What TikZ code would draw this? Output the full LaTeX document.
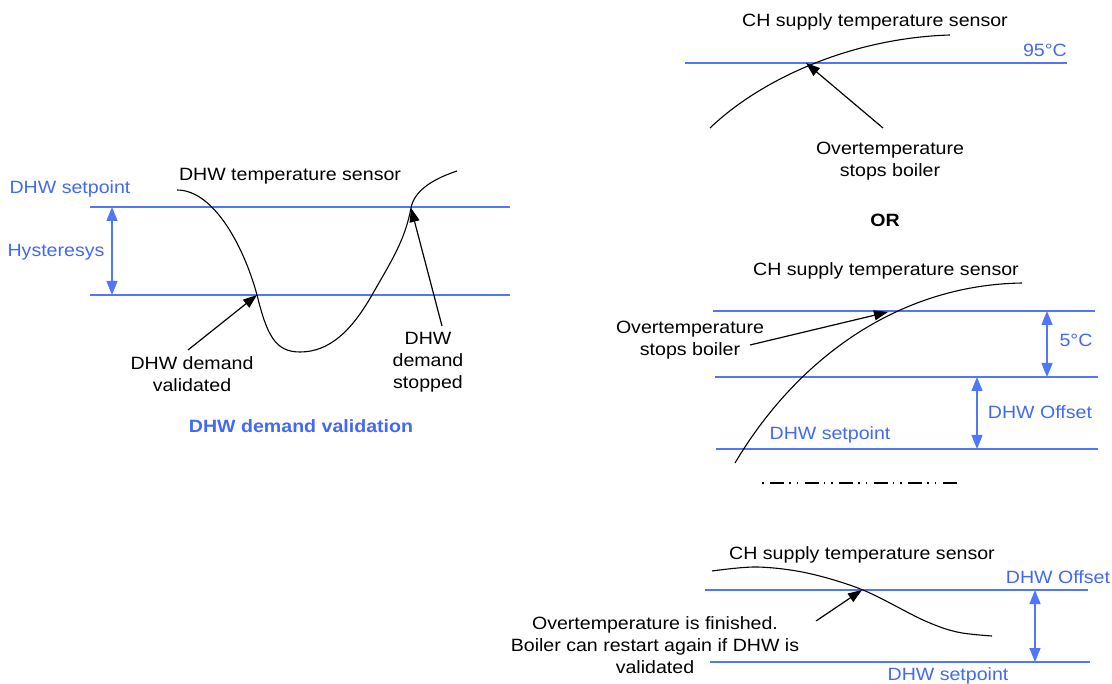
\documentclass[tikz,border=0pt]{standalone}
\usepackage{fontspec}
\setmainfont[FakeStretch=1.1]{Liberation Sans}
\usetikzlibrary{arrows.meta}
\definecolor{lineblue}{RGB}{80,118,252}
\definecolor{textblue}{RGB}{66,104,246}
\begin{document}
\begin{tikzpicture}[x=1pt,y=-1pt,
  lbl/.style={inner sep=0pt, font=\fontsize{17.8}{22}\selectfont, text=black, align=center},
  bluelbl/.style={lbl, text=textblue},
  boldblue/.style={lbl, text=textblue, font=\fontsize{17.8}{22}\selectfont\bfseries},
  level/.style={draw=lineblue, line width=1.2pt},
  span/.style={draw=lineblue, line width=1.2pt,
    {Triangle[length=14pt,width=11pt]}-{Triangle[length=14pt,width=11pt]}},
  sensor/.style={draw=black, line width=1.1pt},
  pointer/.style={draw=black, line width=1.2pt, -{Triangle[length=14pt,width=10pt]}},
]
\useasboundingbox (0,0) rectangle (1112,684);

% ---------------- DHW demand validation ----------------
\coordinate (spL) at (90,207);  \coordinate (spR) at (510,207);
\coordinate (hyL) at (90,295);  \coordinate (hyR) at (510,295);
\draw[level] (spL) -- (spR);
\draw[level] (hyL) -- (hyR);
\coordinate (hyTop) at (112,207); \coordinate (hyBot) at (112,295);
\draw[span] (hyTop) -- (hyBot);

% DHW temperature trace: falls below the hysteresis band, then rises past the setpoint
\coordinate (sL0) at (177,190);
\coordinate (sL1) at (257,295);
\coordinate (sL2) at (300,352);
\coordinate (sL3) at (372,295);
\coordinate (sL4) at (411,208);
\coordinate (sL5) at (457,171);
\draw[sensor] (sL0) .. controls (215,190) and (245,250) .. (sL1)
              .. controls (267,335) and (275,352) .. (sL2)
              .. controls (330,352) and (352,330) .. (sL3)
              .. controls (392,260) and (405,240) .. (sL4)
              .. controls (414,192) and (430,180) .. (sL5);

\coordinate (valTail) at (188,350);
\coordinate (stopTail) at (442,326);
\draw[pointer] (valTail) -- (sL1);
\draw[pointer] (stopTail) -- (sL4);

\node[lbl] (tsens) at (290,176) {DHW temperature sensor};
\node[bluelbl] (spText) at (70,189) {DHW setpoint};
\node[bluelbl] (hyText) at (56,252) {Hysteresys};
\node[lbl] (valText) at (192,374) {DHW demand\\validated};
\node[lbl] (stopText) at (428,362) {DHW\\demand\\stopped};
\node[boldblue] (title) at (301,426) {DHW demand validation};

% ---------------- Overtemperature at 95 C ----------------
\node[lbl] (chA) at (875,22) {CH supply temperature sensor};
\coordinate (tA1) at (685,63); \coordinate (tA2) at (1067,63);
\draw[level] (tA1) -- (tA2);
\node[bluelbl, anchor=east] (degA) at (1067,50) {95°C};
\coordinate (sA0) at (710,128); \coordinate (sA1) at (950,35);
\draw[sensor] (sA0) .. controls (760,80) and (850,38) .. (sA1);
\coordinate (otATip) at (806,63); \coordinate (otATail) at (883,128);
\draw[pointer] (otATail) -- (otATip);
\node[lbl] (otA) at (890,161) {Overtemperature\\stops boiler};
\node[lbl, font=\fontsize{17.8}{22}\selectfont\bfseries] (orText) at (885,220) {OR};

% ---------------- Overtemperature at DHW setpoint + offset + 5 C ----------------
\node[lbl] (chB) at (886,271) {CH supply temperature sensor};
\coordinate (b1L) at (713,311); \coordinate (b1R) at (1095,311);
\coordinate (b2L) at (715,377); \coordinate (b2R) at (1098,377);
\coordinate (b3L) at (716,449); \coordinate (b3R) at (1098,449);
\draw[level] (b1L) -- (b1R);
\draw[level] (b2L) -- (b2R);
\draw[level] (b3L) -- (b3R);
\coordinate (fiveTop) at (1047,311); \coordinate (fiveBot) at (1047,377);
\draw[span] (fiveTop) -- (fiveBot);
\node[bluelbl] (fiveText) at (1076,340) {5°C};
\coordinate (offTop) at (977,377); \coordinate (offBot) at (977,449);
\draw[span] (offTop) -- (offBot);
\node[bluelbl] (offText) at (1040,412) {DHW Offset};
\node[bluelbl] (spB) at (830,435) {DHW setpoint};
\coordinate (sB0) at (735,463); \coordinate (sB1) at (1022,283);
\draw[sensor] (sB0) .. controls (795,362) and (895,285) .. (sB1);
\coordinate (otBTip) at (888,312); \coordinate (otBTail) at (750,345);
\draw[pointer] (otBTail) -- (otBTip);
\node[lbl] (otB) at (690,340) {Overtemperature\\stops boiler};

% separator
\coordinate (sepL) at (762,483); \coordinate (sepR) at (961,483);
\draw[black, line width=1.8pt,
  dash pattern=on 14pt off 5pt on 1.5pt off 6pt on 1.5pt off 6.5pt,
  dash phase=26.5pt] (sepL) -- (sepR);

% ---------------- End of overtemperature ----------------
\node[lbl] (chC) at (862,555) {CH supply temperature sensor};
\coordinate (c1L) at (705,590); \coordinate (c1R) at (1088,590);
\coordinate (c2L) at (710,662); \coordinate (c2R) at (1090,662);
\draw[level] (c1L) -- (c1R);
\draw[level] (c2L) -- (c2R);
\coordinate (cTop) at (1035,590); \coordinate (cBot) at (1035,662);
\draw[span] (cTop) -- (cBot);
\node[bluelbl] (offC) at (1058,577) {DHW Offset};
\node[bluelbl] (spC) at (948,676) {DHW setpoint};
\draw[sensor] plot[smooth, tension=0.55] coordinates {
  (712,571) (757,567) (807,573) (863,590) (923,620) (957,632) (992,636)};
\coordinate (otCTip) at (862,590); \coordinate (otCTail) at (816,621);
\draw[pointer] (otCTail) -- (otCTip);
\node[lbl] (otC) at (655,645) {Overtemperature is finished.\\Boiler can restart again if DHW is\\validated};
\end{tikzpicture}
\end{document}
